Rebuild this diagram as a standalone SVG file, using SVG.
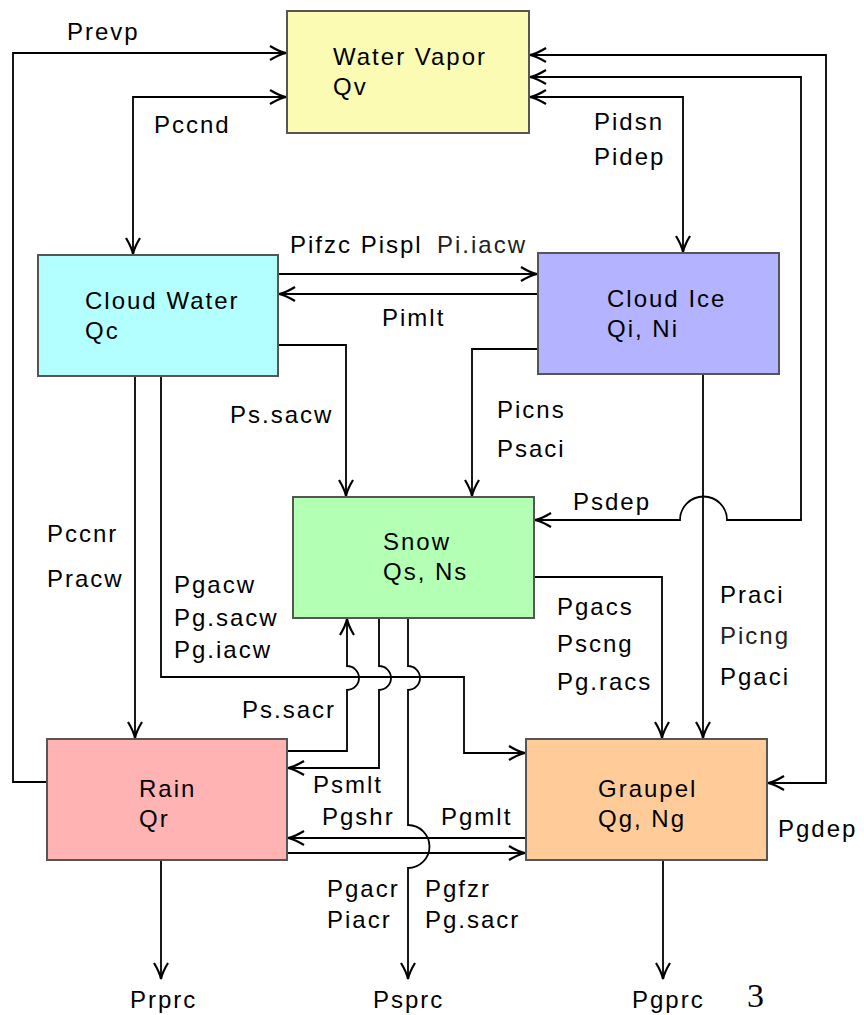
<svg xmlns="http://www.w3.org/2000/svg" width="864" height="1015" viewBox="0 0 864 1015">
<style>
text{font-family:"Liberation Sans",Arial,sans-serif;font-size:24px;letter-spacing:2px;fill:#000}
.box{stroke:#555;stroke-width:2}
.c{fill:none;stroke:#000;stroke-width:1.8}
.a{marker-end:url(#ah)}
.b{marker-start:url(#ah);marker-end:url(#ah)}
.g{fill:#222}
</style>
<defs>
<marker id="ah" markerUnits="userSpaceOnUse" markerWidth="40" markerHeight="40" viewBox="-20 -20 40 40" refX="0" refY="0" orient="auto-start-reverse" overflow="visible">
<path d="M-16,-7 Q-7,-1.5 0,0 Q-7,1.5 -16,7" fill="none" stroke="#000" stroke-width="2.2"/>
</marker>
</defs>
<rect width="864" height="1015" fill="#fff"/>
<g id="connectors">
<path class="c a" d="M47,782 H13 V53 H286"/>
<path class="c b" d="M286,97 H133 V254"/>
<path class="c b" d="M530,97 H683 V252"/>
<path class="c b" d="M530,55 H826 V783 H768"/>
<path class="c b" d="M530,77 H801 V520 H727 A23.5,23.5 0 0 0 680,520 H535"/>
<path class="c a" d="M278,274 H537"/>
<path class="c a" d="M538,294 H279"/>
<path class="c a" d="M278,345 H346 V496"/>
<path class="c a" d="M538,349 H472 V496"/>
<path class="c a" d="M703,374 V738"/>
<path class="c a" d="M534,577 H662 V738"/>
<path class="c a" d="M135,376 V738"/>
<path class="c a" d="M161,376 V677 H464 V753 H525"/>
<path class="c a" d="M287,751 H347 V690 A12,12 0 0 0 347,666 V619"/>
<path class="c a" d="M379,618 V666 A12,12 0 0 1 379,690 V768 H288"/>
<path class="c a" d="M408,618 V666 A12,12 0 0 1 408,690 V825 A21.5,21.5 0 0 1 408,868 V979"/>
<path class="c a" d="M526,838 H288"/>
<path class="c a" d="M287,853 H525"/>
<path class="c a" d="M161,860 V979"/>
<path class="c a" d="M663,860 V979"/>
</g>
<g id="water-vapor">
<rect class="box" x="287" y="11" width="242" height="122" fill="#fbfbb3"/>
<text x="333" y="65">Water Vapor</text>
<text x="333" y="95">Qv</text>
</g>
<g id="cloud-water">
<rect class="box" x="38" y="255" width="240" height="121" fill="#b3ffff"/>
<text x="85" y="309">Cloud Water</text>
<text x="85" y="339">Qc</text>
</g>
<g id="cloud-ice">
<rect class="box" x="538" y="253" width="241" height="121" fill="#b3b3ff"/>
<text x="607" y="307">Cloud Ice</text>
<text x="607" y="337">Qi, Ni</text>
</g>
<g id="snow">
<rect class="box" x="293" y="497" width="241" height="121" fill="#b3ffb3"/>
<text x="383" y="550">Snow</text>
<text x="383" y="580">Qs, Ns</text>
</g>
<g id="rain">
<rect class="box" x="47" y="739" width="240" height="121" fill="#ffb3b3"/>
<text x="139" y="797">Rain</text>
<text x="139" y="827">Qr</text>
</g>
<g id="graupel">
<rect class="box" x="526" y="739" width="241" height="121" fill="#ffcc99"/>
<text x="598" y="797">Graupel</text>
<text x="598" y="827">Qg, Ng</text>
</g>
<g id="labels">
<text x="67" y="40">Prevp</text>
<text x="154" y="133">Pccnd</text>
<text x="594" y="130">Pidsn</text>
<text x="594" y="165">Pidep</text>
<text x="290" y="253">Pifzc Pispl<tspan class="g" x="437">Pi.iacw</tspan></text>
<text x="382" y="326">Pimlt</text>
<text x="230" y="423">Ps.sacw</text>
<text x="497" y="418">Picns</text>
<text x="497" y="457">Psaci</text>
<text x="573" y="510">Psdep</text>
<text x="47" y="542">Pccnr</text>
<text x="47" y="587">Pracw</text>
<text x="174" y="593">Pgacw</text>
<text x="174" y="626">Pg.sacw</text>
<text x="174" y="658">Pg.iacw</text>
<text x="557" y="615">Pgacs</text>
<text x="557" y="652">Pscng</text>
<text x="557" y="690">Pg.racs</text>
<text x="720" y="603">Praci</text>
<text class="g" x="720" y="644">Picng</text>
<text x="720" y="685">Pgaci</text>
<text x="242" y="718">Ps.sacr</text>
<text x="313" y="793">Psmlt</text>
<text x="322" y="825">Pgshr</text>
<text x="441" y="825">Pgmlt</text>
<text x="778" y="837">Pgdep</text>
<text x="327" y="897">Pgacr</text>
<text x="327" y="928">Piacr</text>
<text x="425" y="897">Pgfzr</text>
<text x="425" y="928">Pg.sacr</text>
<text x="130" y="1008">Prprc</text>
<text x="373" y="1008">Psprc</text>
<text x="632" y="1008">Pgprc</text>
<text x="747" y="1007" style="font-family:'Liberation Serif','Times New Roman',serif;font-size:34px;letter-spacing:0">3</text>
</g>
</svg>
